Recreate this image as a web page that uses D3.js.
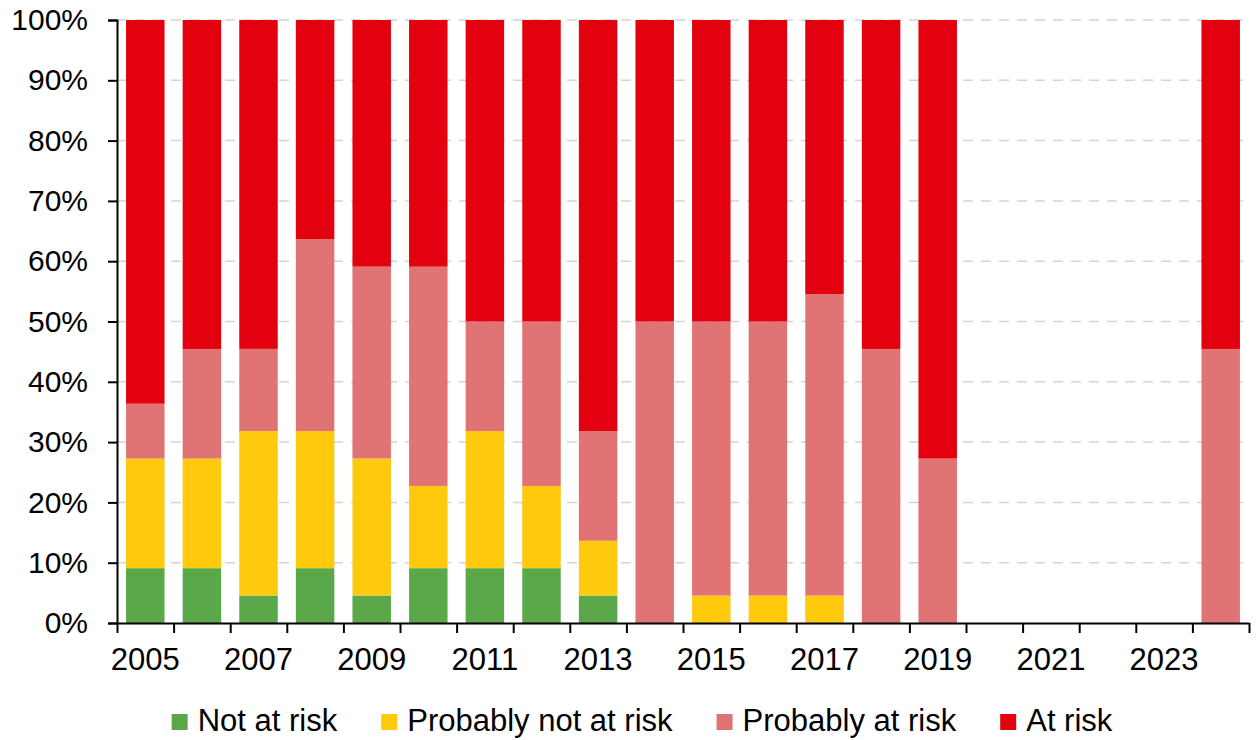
<!DOCTYPE html>
<html>
<head>
<meta charset="utf-8">
<script src="https://cdn.jsdelivr.net/npm/d3@7"></script>
<style>
  body { margin: 0; background: #fff; }
  svg text { font-family: "Liberation Sans", Arial, sans-serif; fill: #000; }
</style>
</head>
<body>
<svg id="chart" width="1259" height="740"></svg>
<script>
// ----- DATA (percent of sites per year) -----
const years = ["2005","2006","2007","2008","2009","2010","2011","2012","2013","2014",
  "2015","2016","2017","2018","2019","2020","2021","2022","2023","2024"];
const notAtRisk      = [9.09, 9.09, 4.55, 9.09, 4.55, 9.09, 9.09, 9.09, 4.55, 0, 0, 0, 0, 0, 0, 0, 0, 0, 0, 0];
const probNotAtRisk  = [18.18, 18.18, 27.27, 22.73, 22.73, 13.64, 22.73, 13.64, 9.09, 0, 4.55, 4.55, 4.55, 0, 0, 0, 0, 0, 0, 0];
const probAtRisk     = [9.09, 18.18, 13.64, 31.82, 31.82, 36.36, 18.18, 27.27, 18.18, 50, 45.45, 45.45, 50, 45.45, 27.27, 0, 0, 0, 0, 45.45];
const atRisk         = [63.64, 54.55, 54.55, 36.36, 40.91, 40.91, 50, 50, 68.18, 50, 50, 50, 45.45, 54.55, 72.73, 0, 0, 0, 0, 54.55];
const seriesNames = ["Not at risk", "Probably not at risk", "Probably at risk", "At risk"];
const seriesColors = ["#5ba84a", "#ffc90e", "#e07373", "#e3000f"];
const yTicks = [0, 10, 20, 30, 40, 50, 60, 70, 80, 90, 100];
const xLabels = ["2005","2007","2009","2011","2013","2015","2017","2019","2021","2023"];

const plotLeft = 117, plotRight = 1249, plotTop = 20, plotBottom = 623;
const svg = d3.select("#chart");

// table for d3.stack
const rows = years.map((yr, i) => ({
  year: yr,
  s0: notAtRisk[i], s1: probNotAtRisk[i], s2: probAtRisk[i], s3: atRisk[i]
}));
const stacked = d3.stack().keys(["s0","s1","s2","s3"])(rows);

// ----- SCALES -----
const x = d3.scaleBand().domain(years).range([plotLeft, plotRight])
  .paddingInner(0.32).paddingOuter(0.16);
const xEdge = d3.scaleLinear().domain([0, years.length]).range([plotLeft, plotRight]);
const y = d3.scaleLinear().domain([0, 100]).range([plotBottom, plotTop]).clamp(true);

// ----- GRID -----
svg.append("g")
  .selectAll("line")
  .data(yTicks.filter(d => d > 0))
  .enter().append("line")
  .attr("x1", plotLeft).attr("x2", plotRight)
  .attr("y1", d => y(d)).attr("y2", d => y(d))
  .attr("stroke", "#d4d4d4")
  .attr("stroke-width", 1.5)
  .attr("stroke-dasharray", "10,8");

// ----- BARS -----
svg.append("g")
  .selectAll("g")
  .data(stacked)
  .enter().append("g")
  .attr("fill", (d, i) => seriesColors[i])
  .selectAll("rect")
  .data(d => d)
  .enter().append("rect")
  .attr("x", d => x(d.data.year))
  .attr("y", d => y(d[1]))
  .attr("width", x.bandwidth())
  .attr("height", d => Math.max(0, y(d[0]) - y(d[1])));

// ----- AXES -----
const yAxis = d3.axisLeft(y).tickValues(yTicks).tickFormat(d => d + "%")
  .tickSize(9).tickPadding(20);
const gy = svg.append("g").attr("transform", "translate(" + plotLeft + ",0)").call(yAxis);
gy.selectAll("text").style("font-size", "30px");

// tick marks between the bars
const xTickAxis = d3.axisBottom(xEdge).tickValues(d3.range(0, years.length + 1))
  .tickFormat("").tickSize(10).tickSizeOuter(0);
svg.append("g").attr("transform", "translate(0," + plotBottom + ")").call(xTickAxis);

// year labels under every other bar
const xLabelAxis = d3.axisBottom(x).tickValues(xLabels).tickSize(0).tickPadding(25);
const gx = svg.append("g").attr("transform", "translate(0," + plotBottom + ")").call(xLabelAxis);
gx.select(".domain").remove();
gx.selectAll("text").style("font-size", "31px");

svg.selectAll(".domain").attr("stroke", "#000").attr("stroke-width", 2);
svg.selectAll(".tick line").attr("stroke", "#000").attr("stroke-width", 2);

// ----- LEGEND -----
const legend = svg.append("g").attr("transform", "translate(0,731)");
const items = legend.selectAll("g").data(seriesNames).enter().append("g");
items.append("rect")
  .attr("y", -17).attr("width", 16).attr("height", 16)
  .attr("fill", (d, i) => seriesColors[i]);
items.append("text")
  .attr("x", 26)
  .style("font-size", "31px")
  .text(d => d);
let pos = 0;
const offsets = [];
items.each(function () {
  offsets.push(pos);
  pos += 26 + d3.select(this).select("text").node().getComputedTextLength() + 44;
});
const total = pos - 44;
const start = 642 - total / 2;
items.attr("transform", (d, i) => "translate(" + (start + offsets[i]) + ",0)");
</script>
</body>
</html>
